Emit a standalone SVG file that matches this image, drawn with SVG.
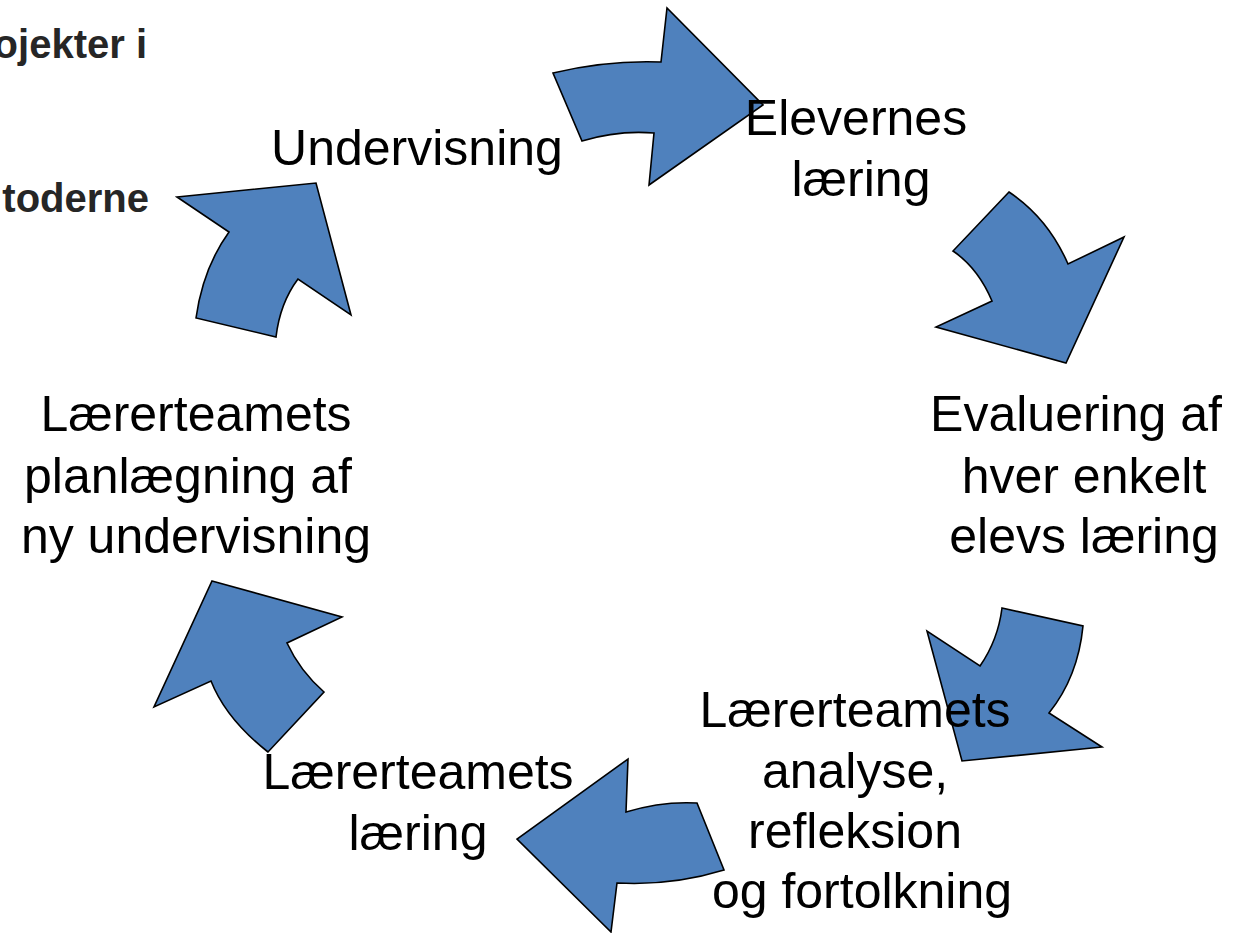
<svg xmlns="http://www.w3.org/2000/svg" width="1247" height="933" viewBox="0 0 1247 933">
<style>
.arr{fill:#4f81bd;stroke:#000;stroke-width:1.6;stroke-linejoin:miter}
.lbl{font-family:"Liberation Sans",Arial,sans-serif;font-size:50px;fill:#000;text-anchor:middle}
.hdr{font-family:"Liberation Sans",Arial,sans-serif;font-size:40px;font-weight:bold;fill:#262626;text-anchor:end}
</style>
<rect width="1247" height="933" fill="#fff"/>
<g id="header">
<text class="hdr" x="147" y="58">ojekter i</text>
<text class="hdr" x="149" y="212">toderne</text>
</g>
<g id="connectors">
<path class="arr" d="M553,73 Q607,60 661,62 L667,8 L763,105 L649,185 L654,133 Q618,130 582,141 Z"/>
<path class="arr" d="M1009,192 Q1048,218 1068,264 L1124,237 L1066,363 L936,327 L992,301 Q978,268 953,251 Z"/>
<path class="arr" d="M1002,608 L1083,626 Q1078,677 1049,713 L1102,747 L962,761 L927,631 L980,666 Q998,640 1002,608 Z"/>
<path class="arr" d="M628,759 L626,812 Q662,801 697,803 L724,870 Q672,886 617,883 L611,932 L517,839 Z"/>
<path class="arr" d="M212,581 L342,617 L287,643 Q300,671 324,692 L268,752 Q226,719 211,681 L154,707 Z"/>
<path class="arr" d="M177,197 L316,183 L351,315 L298,279 Q280,303 276,337 L196,318 Q203,268 229,232 Z"/>
</g>
<g id="node-undervisning"><text class="lbl" x="417" y="165">Undervisning</text></g>
<g id="node-elevernes"><text class="lbl" x="856" y="135">Elevernes</text><text class="lbl" x="861" y="196">læring</text></g>
<g id="node-evaluering"><text class="lbl" x="1076" y="431">Evaluering af</text><text class="lbl" x="1084" y="493">hver enkelt</text><text class="lbl" x="1084" y="553">elevs læring</text></g>
<g id="node-analyse"><text class="lbl" x="855" y="727">Lærerteamets</text><text class="lbl" x="855" y="788">analyse,</text><text class="lbl" x="855" y="848">refleksion</text><text class="lbl" x="862" y="908">og fortolkning</text></g>
<g id="node-laering"><text class="lbl" x="418" y="789">Lærerteamets</text><text class="lbl" x="418" y="850">læring</text></g>
<g id="node-planlaegning"><text class="lbl" x="196" y="431">Lærerteamets</text><text class="lbl" x="188" y="493">planlægning af</text><text class="lbl" x="196" y="553">ny undervisning</text></g>
</svg>
